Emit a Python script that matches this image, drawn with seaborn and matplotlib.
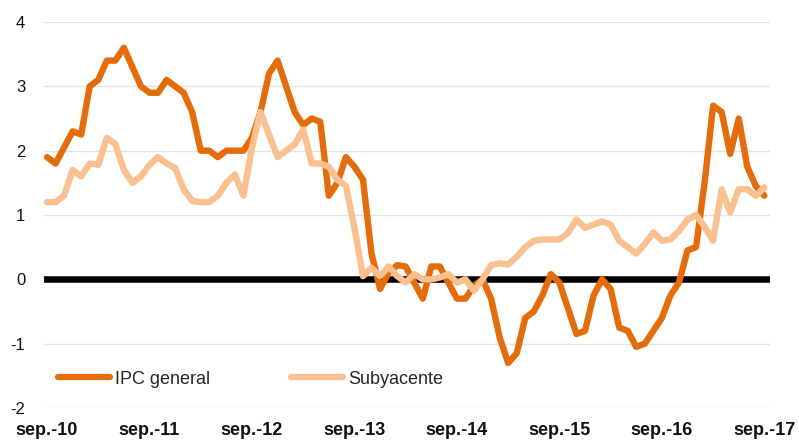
import numpy as np
import pandas as pd
import seaborn as sns
import matplotlib.pyplot as plt

# tasa interanual, mensual desde sep.-10 hasta sep.-17
ipc_general = [1.9, 1.8, 2.05, 2.3, 2.25, 3.0, 3.1, 3.4, 3.4, 3.6,
               3.3, 3.0, 2.9, 2.9, 3.1, 3.0, 2.9, 2.6, 2.0, 2.0,
               1.9, 2.0, 2.0, 2.0, 2.2, 2.6, 3.2, 3.4, 3.0, 2.6,
               2.4, 2.5, 2.45, 1.3, 1.5, 1.9, 1.75, 1.55, 0.4, -0.15,
               0.1, 0.22, 0.2, -0.05, -0.3, 0.2, 0.2, -0.05, -0.3, -0.3,
               -0.1, 0.0, -0.3, -0.9, -1.3, -1.15, -0.6, -0.5, -0.25, 0.08,
               -0.05, -0.45, -0.85, -0.8, -0.25, 0.0, -0.15, -0.75, -0.8, -1.05,
               -1.0, -0.8, -0.6, -0.25, -0.05, 0.45, 0.5, 1.5, 2.7, 2.6,
               1.95, 2.5, 1.75, 1.45, 1.3]
subyacente = [1.2, 1.2, 1.3, 1.7, 1.6, 1.8, 1.78, 2.2, 2.1, 1.7,
              1.5, 1.6, 1.78, 1.9, 1.8, 1.73, 1.4, 1.22, 1.2, 1.2,
              1.3, 1.5, 1.63, 1.3, 2.05, 2.6, 2.25, 1.9, 2.0, 2.1,
              2.33, 1.8, 1.8, 1.75, 1.55, 1.45, 0.8, 0.05, 0.18, 0.05,
              0.2, 0.05, -0.05, 0.08, 0.0, 0.0, 0.03, 0.08, -0.05, 0.0,
              -0.18, 0.0, 0.22, 0.25, 0.23, 0.35, 0.5, 0.6, 0.62, 0.62,
              0.62, 0.72, 0.93, 0.8, 0.85, 0.9, 0.85, 0.6, 0.5, 0.4,
              0.55, 0.73, 0.6, 0.62, 0.75, 0.93, 1.0, 0.82, 0.6, 1.4,
              1.04, 1.4, 1.4, 1.3, 1.43]
tick_labels = ['sep.-10', 'sep.-11', 'sep.-12', 'sep.-13',
               'sep.-14', 'sep.-15', 'sep.-16', 'sep.-17']
series = ['IPC general', 'Subyacente']
colors = ['#E46C0A', '#FAC090']

n = len(ipc_general)
months = np.arange(n)
df = pd.DataFrame({
    'mes': np.concatenate([months, months]),
    'valor': ipc_general + subyacente,
    'serie': [series[0]] * n + [series[1]] * n,
})

sns.set_style('white')
plt.rcParams['font.family'] = ['Liberation Sans', 'DejaVu Sans']

fig = plt.figure(figsize=(7.99, 4.4), dpi=100)
ax = fig.add_axes([0.0551, 0.0727, 0.9086, 0.8773])

# linea del cero
ax.axhline(0, color='black', lw=4.7, zorder=1)

sns.lineplot(data=df, x='mes', y='valor', hue='serie', hue_order=series,
             palette=colors, linewidth=4.6, ax=ax, zorder=2)
for line in ax.lines:
    line.set_solid_joinstyle('round')
    line.set_solid_capstyle('round')

ax.set_ylim(-2, 4)
ax.set_xlim(-0.35, 84.66)
ax.set_yticks([-2, -1, 0, 1, 2, 3, 4])
ax.set_yticklabels(['-2', '-1', '0', '1', '2', '3', '4'])
ax.set_xticks(np.arange(0, n, 12))
ax.set_xticklabels(tick_labels, fontweight='bold')
ax.tick_params(axis='y', length=0, pad=13.5, labelsize=12, labelcolor='#111111')
ax.tick_params(axis='x', length=0, pad=10, labelsize=13, labelcolor='#111111')
ax.set_xlabel('')
ax.set_ylabel('')

ax.yaxis.grid(True, color='#E3E3E3', lw=1)
ax.xaxis.grid(False)
ax.set_axisbelow(True)
for s in ax.spines.values():
    s.set_visible(False)

handles, labels = ax.get_legend_handles_labels()
leg = ax.legend(handles=handles, labels=labels, loc='center left',
                bbox_to_anchor=(0.019, 0.075), ncol=2, frameon=False,
                fontsize=13, handlelength=2.9, handletextpad=0.25,
                columnspacing=4.5, borderpad=0, borderaxespad=0)
for h in leg.get_lines():
    h.set_linewidth(4.5)
    h.set_solid_capstyle('round')

fig.savefig('out.png', dpi=100)
